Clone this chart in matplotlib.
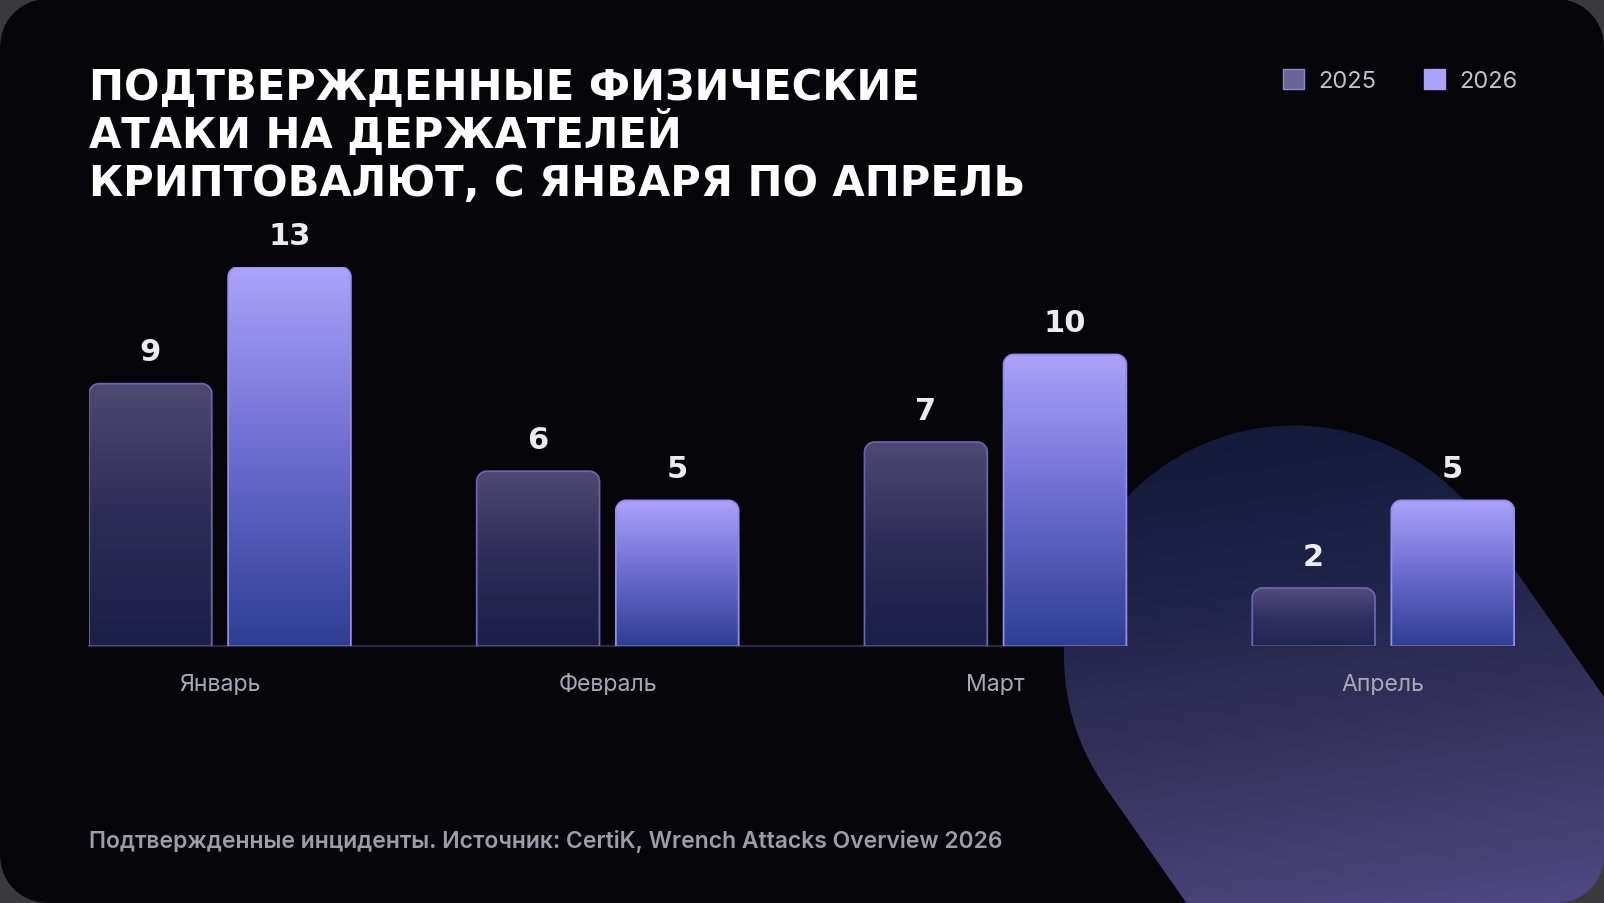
import numpy as np
import matplotlib
matplotlib.use("Agg")
import matplotlib.pyplot as plt
from matplotlib.path import Path
from matplotlib.patches import PathPatch, Patch
from matplotlib.colors import LinearSegmentedColormap

# данные
months = ["Январь", "Февраль", "Март", "Апрель"]
attacks_2025 = [9, 6, 7, 2]
attacks_2026 = [13, 5, 10, 5]
years = ["2025", "2026"]
title_lines = ["ПОДТВЕРЖДЕННЫЕ ФИЗИЧЕСКИЕ",
               "АТАКИ НА ДЕРЖАТЕЛЕЙ",
               "КРИПТОВАЛЮТ, С ЯНВАРЯ ПО АПРЕЛЬ"]
note = "Подтвержденные инциденты. Источник: CertiK, Wrench Attacks Overview 2026"

# сетка макета (пиксели эталона)
W, H = 1568, 884


def fx(px):
    return px / W


def fy(py):
    return 1 - py / H


def rounded_rect(x0, y0, x1, y1, rx, ry, corners=(True, True, True, True), n=14):
    # corners: bl, br, tr, tl ; y0 - низ, y1 - верх
    pts = []
    spec = [
        (corners[1], (x1 - rx, y0 + ry), -90, 0, (x1, y0)),
        (corners[2], (x1 - rx, y1 - ry), 0, 90, (x1, y1)),
        (corners[3], (x0 + rx, y1 - ry), 90, 180, (x0, y1)),
        (corners[0], (x0 + rx, y0 + ry), 180, 270, (x0, y0)),
    ]
    for rnd, c, a0, a1, p in spec:
        if rnd:
            t = np.radians(np.linspace(a0, a1, n))
            pts += list(zip(c[0] + rx * np.cos(t), c[1] + ry * np.sin(t)))
        else:
            pts.append(p)
    pts.append(pts[0])
    codes = [Path.MOVETO] + [Path.LINETO] * (len(pts) - 2) + [Path.CLOSEPOLY]
    return Path(pts, codes)


fig = plt.figure(figsize=(16.04, 9.04), dpi=100)
fig.patch.set_facecolor("#3a3a3d")

# фон: карточка и декоративная фигура
bg = fig.add_axes([0, 0, 1, 1])
bg.set_xlim(0, W)
bg.set_ylim(H, 0)
bg.axis("off")

card = rounded_rect(0, 0, W, H, 46, 46)
bg.add_patch(PathPatch(card, facecolor="#060509", edgecolor="none", zorder=0))

# капсула, повернутая на ~35 градусов
th = np.radians(35)
d = np.array([np.sin(th), np.cos(th)])
nrm = np.array([np.cos(th), -np.sin(th)])
c1 = np.array([1265.0, 642.0])
c2 = c1 + d * 700
r = 225
t = np.linspace(0, np.pi, 60)
arc1 = c1 + r * (np.outer(np.cos(t), nrm) - np.outer(np.sin(t), d))
arc2 = c2 + r * (-np.outer(np.cos(t), nrm) + np.outer(np.sin(t), d))
blob = np.vstack([arc1, arc2, arc1[:1]])
blob_patch = PathPatch(Path(blob), facecolor="none", edgecolor="none")
bg.add_patch(blob_patch)

gx, gy = np.meshgrid(np.linspace(1000, W, 200), np.linspace(400, H, 200))
gval = np.clip((gy - 417) / 467 * 0.85 + (gx - 1000) / 568 * 0.15, 0, 1)
blob_cmap = LinearSegmentedColormap.from_list(
    "blob", ["#121837", "#1e2248", "#38345f", "#4f4883"])
im = bg.imshow(gval, extent=(1000, W, H, 400), cmap=blob_cmap, vmin=0, vmax=1,
               aspect="auto", zorder=1, interpolation="bilinear")
im.set_clip_path(blob_patch)

# серые углы поверх
outer = Path([(0, 0), (0, H), (W, H), (W, 0), (0, 0)],
             [Path.MOVETO, Path.LINETO, Path.LINETO, Path.LINETO, Path.CLOSEPOLY])
frame = Path.make_compound_path(outer, card)
bg.add_patch(PathPatch(frame, facecolor="#3a3a3d", edgecolor="none", zorder=5))

# основной график
ax = fig.add_axes([fx(87), fy(633), fx(1481) - fx(87), 371 / H])
ax.patch.set_alpha(0)
ax.set_xlim(-0.3377, 3.340)
ax.set_ylim(0, 13)

x = np.arange(len(months))
off = 0.1794
width = 0.3166
rx, ry = 10 / 379, 10 / 28.54

cmap25 = LinearSegmentedColormap.from_list("c25", ["#1f2455", "#353366", "#5d5588"])
cmap26 = LinearSegmentedColormap.from_list("c26", ["#2e3e92", "#6a6cce", "#aca3fc"])
grad = np.linspace(1, 0, 256).reshape(-1, 1)

series = [(x - off, attacks_2025, cmap25, "#6a64b0", 0.85),
          (x + off, attacks_2026, cmap26, "#938cec", 1.0)]
for xs, vals, cm, edge, alpha in series:
    bars = ax.bar(xs, vals, width, color="none", edgecolor="none")
    for rect, v in zip(bars, vals):
        x0, w, h = rect.get_x(), rect.get_width(), rect.get_height()
        path = rounded_rect(x0, 0, x0 + w, h, rx, ry, corners=(False, False, True, True))
        clip = PathPatch(path, facecolor="none", edgecolor="none", transform=ax.transData)
        ax.add_patch(clip)
        gi = ax.imshow(grad, extent=(x0, x0 + w, 0, h), cmap=cm, aspect="auto",
                       zorder=2, alpha=alpha, interpolation="bilinear")
        gi.set_clip_path(clip)
        ax.add_patch(PathPatch(path, facecolor="none", edgecolor=edge, lw=1.3, zorder=3))
        ax.text(x0 + w / 2, h + 0.8, str(v), ha="center", va="baseline",
                fontsize=22, fontweight="bold", color="#ececf0", family="DejaVu Sans",
                clip_on=False)

ax.set_xlim(-0.3377, 3.340)
ax.set_ylim(0, 13)
for s in ["top", "right", "left"]:
    ax.spines[s].set_visible(False)
ax.spines["bottom"].set_color("#2b2946")
ax.spines["bottom"].set_linewidth(1.5)
ax.set_yticks([])
ax.set_xticks(x)
ax.set_xticklabels(months, fontsize=16.6, color="#a9a8b8", family="Inter")
ax.tick_params(axis="x", length=0, pad=19)

# заголовок
for i, line in enumerate(title_lines):
    fig.text(fx(87), fy(98 + i * 47), line, ha="left", va="baseline",
             fontsize=30, fontweight="bold", color="white", family="DejaVu Sans")

# легенда
handles = [Patch(facecolor="#6a6496", edgecolor="#8c86d6"),
           Patch(facecolor="#aba2fb", edgecolor="#aba2fb")]
fig.legend(handles, years, loc="center right", bbox_to_anchor=(fx(1504), fy(80)),
           ncol=2, frameon=False, handlelength=0.9, handleheight=0.9,
           handletextpad=0.6, columnspacing=2.0, prop={"family": "Inter", "size": 17},
           labelcolor="#c4c2cc")

# подпись
fig.text(fx(87), fy(823), note, ha="left", va="center", fontsize=16.5,
         color="#9d9ca8", family="Inter", fontweight="semibold")

fig.savefig("out.png", dpi=100, facecolor=fig.get_facecolor())
